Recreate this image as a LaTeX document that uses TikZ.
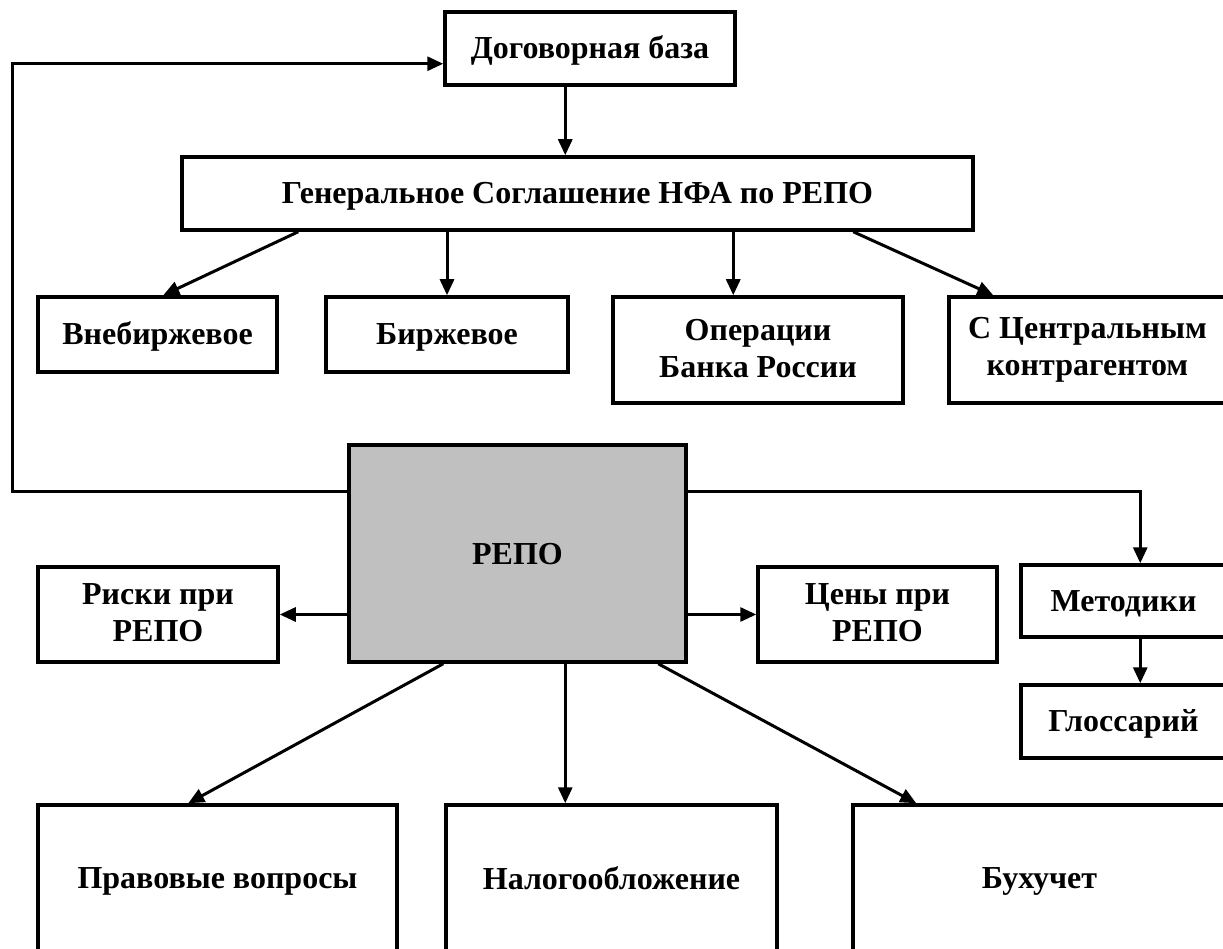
\documentclass[tikz,border=0pt]{standalone}
\usepackage{fontspec}
\setmainfont{Liberation Serif}
\usetikzlibrary{arrows.meta,calc}
\newcommand\vstr{\rule[-4pt]{0pt}{30pt}}
\begin{document}
\begin{tikzpicture}[x=1pt,y=-1pt,
  box/.style={draw=black, line width=3.5pt, fill=white, inner sep=0pt, align=center,
    font=\fontsize{32}{37}\selectfont\bfseries,
    execute at begin node=\vstr, execute at end node=\vstr},
  conn/.style={line width=3pt, -{Triangle[length=16pt,width=14pt]}},
]
\useasboundingbox (0,0) rectangle (1223,949);
\clip (0,0) rectangle (1223,949);

\node[box, minimum width=290pt, minimum height=73pt] (dog) at (590,48.5) {Договорная база};
\node[box, minimum width=791pt, minimum height=73pt] (gen) at (577.5,193.5) {Генеральное Соглашение НФА по РЕПО};
\node[box, minimum width=239pt, minimum height=75pt] (vne) at (157.5,334.5) {Внебиржевое};
\node[box, minimum width=242pt, minimum height=75pt] (bir) at (447,334.5) {Биржевое};
\node[box, minimum width=290pt, minimum height=106pt] (opr) at (758,350) {Операции\\Банка России};
\node[box, minimum width=277pt, minimum height=106pt] (cen) at (1087.5,350) {С Центральным\\контрагентом};
\node[box, fill={rgb,255:red,192;green,192;blue,192}, minimum width=337pt, minimum height=217pt] (repo) at (517.5,553.5) {РЕПО};
\node[box, minimum width=240pt, minimum height=95pt] (risk) at (158,614.5) {Риски при\\РЕПО};
\node[box, minimum width=239pt, minimum height=95pt] (price) at (877.5,614.5) {Цены при\\РЕПО};
\node[box, minimum width=205pt, minimum height=72pt] (met) at (1123.5,601) {Методики};
\node[box, minimum width=205pt, minimum height=73pt] (glo) at (1123.5,721.5) {Глоссарий};
\node[box, minimum width=359pt, minimum height=147pt] (prav) at (217.5,878.5) {Правовые вопросы};
\node[box, minimum width=331pt, minimum height=147pt] (nal) at (611.5,878.5) {Налогообложение};
\node[box, minimum width=373pt, minimum height=147pt] (bux) at (1039.5,878.5) {Бухучет};

% feedback loop
\draw[conn] ($(repo.north west)+(0,48)$) -- ++(-335,0) |- ($(dog.south west)+(0,-23)$);
\draw[conn] ($(dog.south west)+(122,0)$) coordinate (t1) -- (t1 |- gen.north);
\draw[conn] ($(gen.south west)+(118,0)$) -- ($(vne.north west)+(127,0)$);
\draw[conn] (bir.north |- gen.south) -- (bir.north);
\draw[conn] ($(gen.south west)+(553,0)$) coordinate (t2) -- (t2 |- opr.north);
\draw[conn] ($(gen.south west)+(673,0)$) -- ($(cen.north west)+(46,0)$);
\draw[conn] ($(repo.north east)+(0,48)$) -| ($(met.north west)+(121,0)$);
\draw[conn] ($(met.south west)+(121,0)$) coordinate (t3) -- (t3 |- glo.north);
\draw[conn] (repo.west |- risk.east) -- (risk.east);
\draw[conn] (repo.east |- price.west) -- (price.west);
\draw[conn] ($(repo.south west)+(96,0)$) -- ($(prav.north west)+(152,0)$);
\draw[conn] ($(repo.south west)+(218,0)$) coordinate (t4) -- (t4 |- nal.north);
\draw[conn] ($(repo.south west)+(311,0)$) -- ($(bux.north west)+(65,0)$);
\end{tikzpicture}
\end{document}
